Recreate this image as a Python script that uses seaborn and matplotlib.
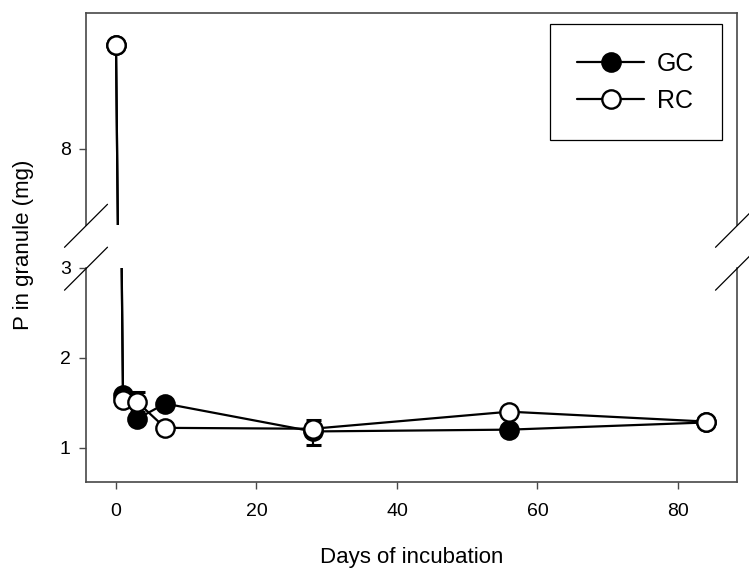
import pandas as pd
import matplotlib.pyplot as plt
import seaborn as sns
from matplotlib.lines import Line2D

# Values
days = [0, 1, 3, 7, 28, 56, 84]
gc = [9.16, 1.59, 1.32, 1.49, 1.18, 1.20, 1.28]
rc = [9.16, 1.53, 1.51, 1.22, 1.21, 1.40, 1.29]

# error bars that stick out from behind the markers
err_days = [3, 28]
err_vals = [1.51, 1.17]
err_size = [0.11, 0.14]

x_ticks = [0, 20, 40, 60, 80]
top_ticks = [8]
bottom_ticks = [1, 2, 3]

df = pd.DataFrame({'day': days, 'GC': gc, 'RC': rc})

sns.set_style('ticks')
plt.rcParams['font.family'] = ['Liberation Sans', 'DejaVu Sans']
plt.rcParams['text.color'] = 'black'

W, H = 749, 572
fig = plt.figure(figsize=(W / 100, H / 100), dpi=100)

left, right = 86, 737
ax_top = fig.add_axes([left / W, (H - 225) / H, (right - left) / W, 212 / H])
ax_bot = fig.add_axes([left / W, (H - 482) / H, (right - left) / W, 214 / H])

spine_col = '#484848'


def draw_series(ax, with_label):
    ax.errorbar(err_days, err_vals, yerr=err_size, fmt='none', ecolor='black',
                elinewidth=1.6, capsize=5.4, capthick=2.2, zorder=1)
    sns.lineplot(data=df, x='day', y='GC', ax=ax, color='black', lw=1.6,
                 marker='o', markersize=13.2, markerfacecolor='black',
                 markeredgecolor='black', markeredgewidth=1.7,
                 label='GC' if with_label else None, legend=False, zorder=2)
    sns.lineplot(data=df, x='day', y='RC', ax=ax, color='black', lw=1.6,
                 marker='o', markersize=13.2, markerfacecolor='white',
                 markeredgecolor='black', markeredgewidth=1.7,
                 label='RC' if with_label else None, legend=False, zorder=3)
    ax.set_xlim(-4.27, 88.4)
    ax.set_xlabel('')
    ax.set_ylabel('')
    for s in ax.spines.values():
        s.set_color(spine_col)
        s.set_linewidth(1.2)
    ax.tick_params(length=5, width=1, color=spine_col, labelsize=14,
                   labelcolor='black', pad=6)


draw_series(ax_top, True)
draw_series(ax_bot, False)

ax_top.set_ylim(7.156, 9.51)
ax_top.set_yticks(top_ticks)
ax_top.set_xticks([])
ax_top.spines['bottom'].set_visible(False)
ax_top.tick_params(axis='x', bottom=False)

ax_bot.set_ylim(0.617, 3.0)
ax_bot.set_yticks(bottom_ticks)
ax_bot.set_xticks(x_ticks)
ax_bot.spines['top'].set_visible(False)
ax_bot.tick_params(axis='x', pad=10)

leg = ax_top.legend(loc='upper right', bbox_to_anchor=(0.977, 0.948),
                    borderaxespad=0, fontsize=18, frameon=True, fancybox=False,
                    framealpha=1, edgecolor='black', handlelength=2.68,
                    handletextpad=0.52, borderpad=1.1, labelspacing=0.53)
leg.get_frame().set_linewidth(0.9)

# break marks on both spines
for sx in (left, right):
    for sy in (225.8, 268.7):
        fig.add_artist(Line2D([(sx - 21.5) / W, (sx + 21.5) / W],
                              [(H - sy - 21.5) / H, (H - sy + 21.5) / H],
                              transform=fig.transFigure, color='black', lw=0.9))

fig.text(24 / W, 1 - 245 / H, 'P in granule (mg)', rotation=90,
         ha='center', va='center', fontsize=16)
fig.text((left + right) / 2 / W, 1 - 557 / H, 'Days of incubation',
         ha='center', va='center', fontsize=16)

fig.savefig('out.png', dpi=100, facecolor='white')
